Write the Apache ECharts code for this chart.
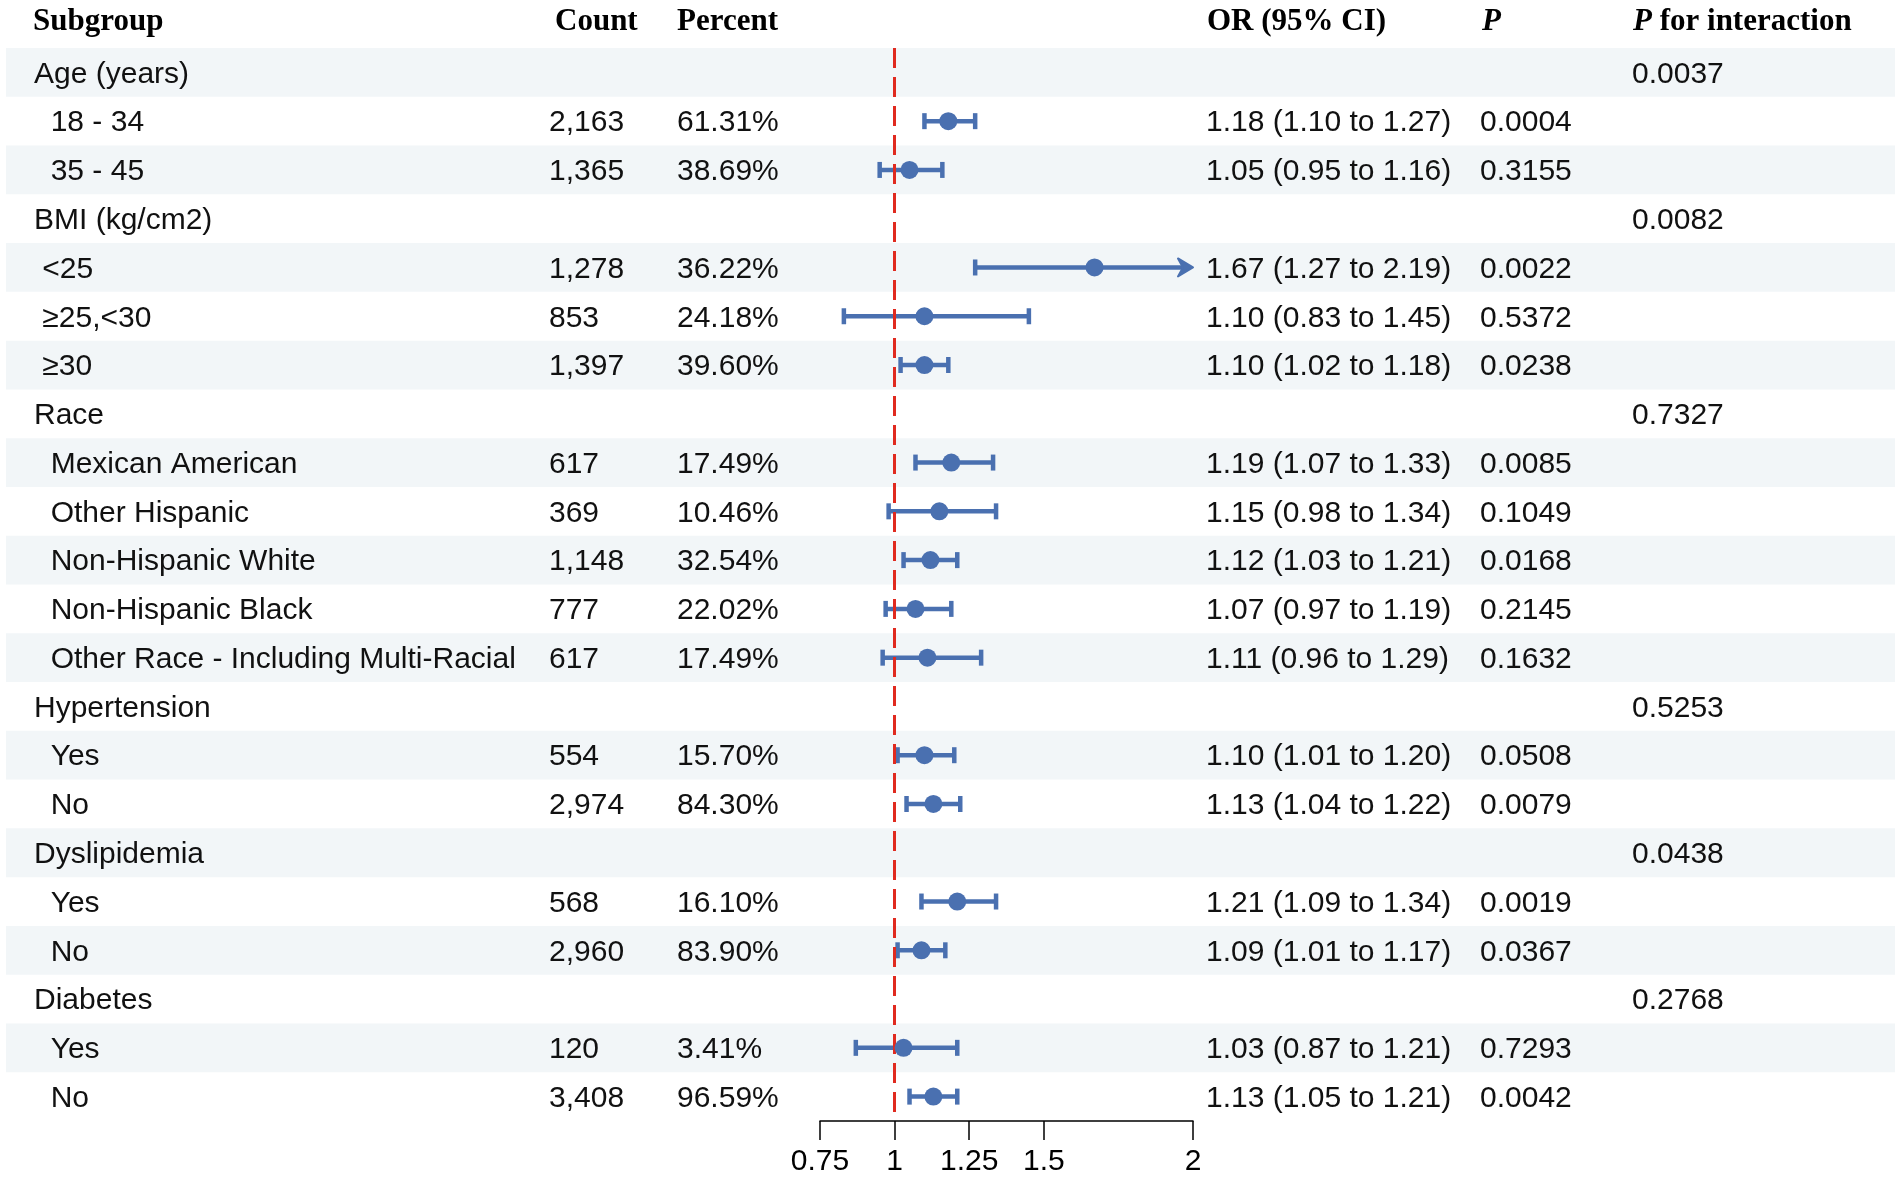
<!DOCTYPE html>
<html>
<head>
<meta charset="utf-8">
<script src="https://cdn.jsdelivr.net/npm/echarts@6/dist/echarts.min.js"></script>
<style>
  html, body { margin: 0; padding: 0; background: #fff; }
  #container { width: 1902px; height: 1178px; }
</style>
</head>
<body>
<div id="container"></div>
<script>
// row labels (leading spaces = indent of sub rows)
var subgroups = [
	'Age (years)', '  18 - 34', '  35 - 45',
	'BMI (kg/cm2)', ' <25', ' \u226525,<30', ' \u226530',
	'Race', '  Mexican American', '  Other Hispanic', '  Non-Hispanic White', '  Non-Hispanic Black', '  Other Race - Including Multi-Racial',
	'Hypertension', '  Yes', '  No',
	'Dyslipidemia', '  Yes', '  No',
	'Diabetes', '  Yes', '  No'
];
var counts = ['', '2,163', '1,365', '', '1,278', '853', '1,397', '', '617', '369', '1,148', '777', '617', '', '554', '2,974', '', '568', '2,960', '', '120', '3,408'];
var percents = ['', '61.31%', '38.69%', '', '36.22%', '24.18%', '39.60%', '', '17.49%', '10.46%', '32.54%', '22.02%', '17.49%', '', '15.70%', '84.30%', '', '16.10%', '83.90%', '', '3.41%', '96.59%'];
var orValues = [null, 1.18, 1.05, null, 1.67, 1.10, 1.10, null, 1.19, 1.15, 1.12, 1.07, 1.11, null, 1.10, 1.13, null, 1.21, 1.09, null, 1.03, 1.13];
var ciLower = [null, 1.10, 0.95, null, 1.27, 0.83, 1.02, null, 1.07, 0.98, 1.03, 0.97, 0.96, null, 1.01, 1.04, null, 1.09, 1.01, null, 0.87, 1.05];
var ciUpper = [null, 1.27, 1.16, null, 2.19, 1.45, 1.18, null, 1.33, 1.34, 1.21, 1.19, 1.29, null, 1.20, 1.22, null, 1.34, 1.17, null, 1.21, 1.21];
var pValues = ['', '0.0004', '0.3155', '', '0.0022', '0.5372', '0.0238', '', '0.0085', '0.1049', '0.0168', '0.2145', '0.1632', '', '0.0508', '0.0079', '', '0.0019', '0.0367', '', '0.7293', '0.0042'];
var pInteraction = ['0.0037', '', '', '0.0082', '', '', '', '0.7327', '', '', '', '', '', '0.5253', '', '', '0.0438', '', '', '0.2768', '', ''];
var axisTicks = [0.75, 1, 1.25, 1.5, 2];
var xMin = 0.75, xMax = 2;

var blue = '#4a70b0';
var sansFont = '"Liberation Sans", Arial, sans-serif';
var serifFont = '"Liberation Serif", "Times New Roman", serif';

function fmtOR( i ) {
	if ( orValues[i] == null ) return '';
	return orValues[i].toFixed( 2 ) + ' (' + ciLower[i].toFixed( 2 ) + ' to ' + ciUpper[i].toFixed( 2 ) + ')';
}

var rowIdx = subgroups.map( function( s, i ) { return i; } );
var bandRows = rowIdx.filter( function( i ) { return i % 2 === 0; } );
var ciData = [];
var pointData = [];
rowIdx.forEach( function( i ) {
	if ( orValues[i] != null ) {
		ciData.push( [ i, ciLower[i], ciUpper[i] ] );
		pointData.push( [ orValues[i], i ] );
	}
} );

var colX = { sub: 34, count: 549, pct: 677, or: 1206, p: 1480, pint: 1632 };

function initCharts() {
	var dom = document.getElementById( 'container' );
	var myChart = echarts.init( dom );
	var option = {
		animation: false,
		backgroundColor: '#fff',
		grid: { left: 820, right: 709, top: 48, bottom: 57 },
		xAxis: {
			type: 'value',
			min: xMin,
			max: xMax,
			splitLine: { show: false },
			axisLine: { show: true, onZero: false, lineStyle: { color: '#000', width: 1.5 } },
			axisTick: { show: true, customValues: axisTicks, length: 19, lineStyle: { color: '#000', width: 1.5 } },
			axisLabel: { customValues: axisTicks, color: '#000', fontSize: 30, fontFamily: sansFont, margin: 26 }
		},
		yAxis: {
			type: 'category',
			data: rowIdx,
			inverse: true,
			show: false
		},
		graphic: [
			{ type: 'text', left: 33, top: 6, style: { text: 'Subgroup', font: 'bold 31px ' + serifFont, fill: '#000' } },
			{ type: 'text', left: 555, top: 6, style: { text: 'Count', font: 'bold 31px ' + serifFont, fill: '#000' } },
			{ type: 'text', left: 677, top: 6, style: { text: 'Percent', font: 'bold 31px ' + serifFont, fill: '#000' } },
			{ type: 'text', left: 1207, top: 6, style: { text: 'OR (95% CI)', font: 'bold 31px ' + serifFont, fill: '#000' } },
			{ type: 'text', left: 1482, top: 6, style: { text: 'P', font: 'italic bold 31px ' + serifFont, fill: '#000' } },
			{ type: 'text', left: 1633, top: 6, style: {
				text: '{i|P} for interaction',
				font: 'bold 31px ' + serifFont,
				fill: '#000',
				rich: { i: { fontStyle: 'italic', fontWeight: 'bold', fontSize: 31, fontFamily: serifFont } }
			} }
		],
		series: [
			{
				// shaded row bands
				type: 'custom',
				silent: true,
				clip: false,
				z: 0,
				data: bandRows,
				renderItem: function( params, api ) {
					var c = api.coord( [ xMin, api.value( 0 ) ] );
					var h = api.size( [ 0, 1 ] )[1];
					return {
						type: 'rect',
						shape: { x: 6, y: c[1] - h / 2, width: 1889, height: h },
						style: { fill: '#f2f6f8' }
					};
				}
			},
			{
				// text columns
				type: 'custom',
				silent: true,
				clip: false,
				z: 3,
				data: rowIdx,
				renderItem: function( params, api ) {
					var i = api.value( 0 );
					var y = api.coord( [ xMin, i ] )[1];
					var cells = [
						[ colX.sub, subgroups[i] ],
						[ colX.count, counts[i] ],
						[ colX.pct, percents[i] ],
						[ colX.or, fmtOR( i ) ],
						[ colX.p, pValues[i] ],
						[ colX.pint, pInteraction[i] ]
					];
					return {
						type: 'group',
						children: cells.map( function( c ) {
							return {
								type: 'text',
								x: c[0],
								y: y + 2,
								style: { text: c[1], font: '30px ' + sansFont, fill: '#111', verticalAlign: 'middle', align: 'left' }
							};
						} )
					};
				}
			},
			{
				// confidence intervals
				type: 'custom',
				silent: true,
				clip: false,
				z: 4,
				data: ciData,
				renderItem: function( params, api ) {
					var row = api.value( 0 );
					var lo = api.value( 1 );
					var hi = api.value( 2 );
					var clipped = hi > xMax;
					var p1 = api.coord( [ Math.max( lo, xMin ), row ] );
					var p2 = api.coord( [ Math.min( hi, xMax ), row ] );
					var capH = 8;
					var st = { stroke: blue, lineWidth: 4.5 };
					var kids = [
						{ type: 'line', shape: { x1: p1[0], y1: p1[1], x2: clipped ? p2[0] - 8 : p2[0], y2: p2[1] }, style: st },
						{ type: 'line', shape: { x1: p1[0], y1: p1[1] - capH, x2: p1[0], y2: p1[1] + capH }, style: st }
					];
					if ( clipped ) {
						kids.push( {
							type: 'polygon',
							shape: { points: [ [ p2[0], p2[1] ], [ p2[0] - 15, p2[1] - 9 ], [ p2[0] - 10, p2[1] ], [ p2[0] - 15, p2[1] + 9 ] ] },
							style: { fill: blue, stroke: blue, lineWidth: 2, lineJoin: 'round' }
						} );
					} else {
						kids.push( { type: 'line', shape: { x1: p2[0], y1: p2[1] - capH, x2: p2[0], y2: p2[1] + capH }, style: st } );
					}
					return { type: 'group', children: kids };
				}
			},
			{
				type: 'scatter',
				z: 5,
				silent: true,
				symbol: 'circle',
				symbolSize: 18,
				itemStyle: { color: blue, opacity: 1 },
				data: pointData,
				markLine: {
					silent: true,
					symbol: 'none',
					label: { show: false },
					lineStyle: { color: '#e02a1f', width: 3, type: [ 20, 9 ] },
					data: [ { xAxis: 1 } ]
				}
			}
		]
	};
	myChart.setOption( option, true );
}
initCharts();
</script>
</body>
</html>
